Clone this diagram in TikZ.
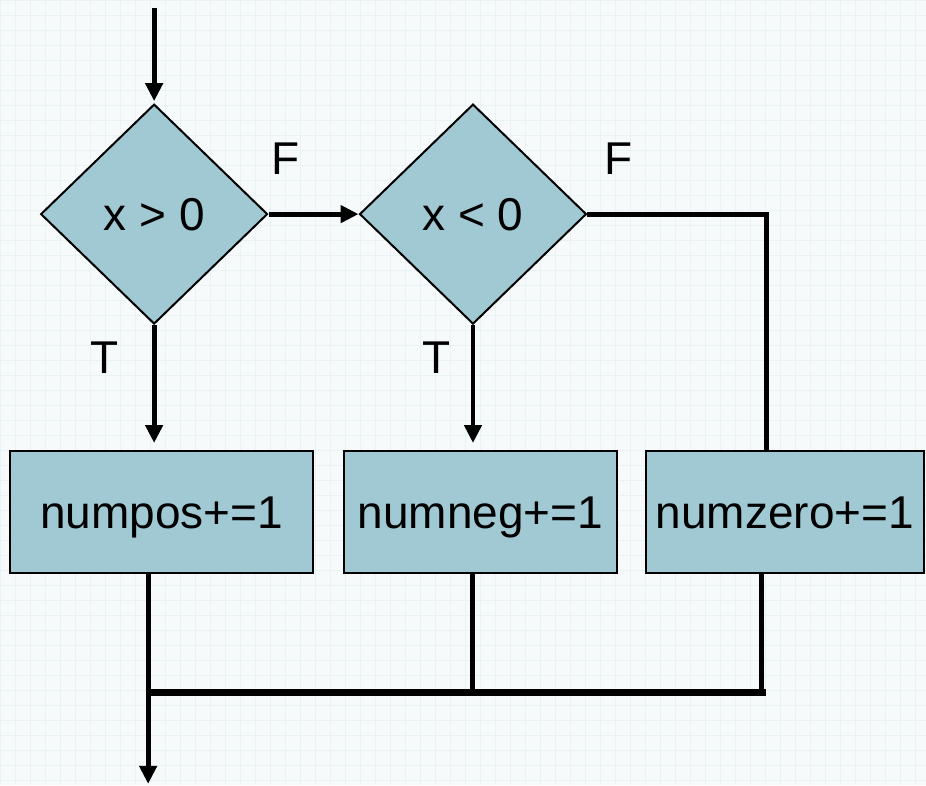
\documentclass[tikz,border=0pt]{standalone}
\usepackage{fontspec}
\setmainfont{Liberation Sans}
\usetikzlibrary{shapes.geometric,arrows.meta}
\definecolor{fillc}{RGB}{161,201,211}
\definecolor{bgc}{RGB}{246,250,251}
\definecolor{gridc}{RGB}{233,243,245}
\begin{document}
\begin{tikzpicture}[x=1pt,y=-1pt,
  txt/.style={font=\fontsize{46}{55}\selectfont, text height=33pt, text depth=0pt, inner sep=0pt},
  decision/.style={diamond, draw=black, line width=2pt, fill=fillc, txt, minimum width=227pt, minimum height=220pt},
  procbox/.style={rectangle, draw=black, line width=2pt, fill=fillc, txt, minimum height=122pt},
  flow/.style={line width=5pt, -{Triangle[length=18pt,width=17pt]}},
  wire/.style={line width=5pt},
  lbl/.style={txt}]
\fill[bgc] (0,0) rectangle (926,785);
\draw[gridc, line width=0.4pt, step=15pt] (0,0) grid (926,785);
\useasboundingbox (0,0) rectangle (926,785);

\node[decision] (d1) at (154,214) {x > 0};
\node[decision] (d2) at (473,214) {x < 0};
\node[procbox, minimum width=303pt] (b1) at (161.5,512) {numpos+=1};
\node[procbox, minimum width=273pt] (b2) at (480.5,512) {numneg+=1};
\node[procbox, minimum width=278pt] (b3) at (785,512) {numzero+=1};

\coordinate (start) at (154,8);
\coordinate (c1) at (767,214);
\coordinate (j1) at (148,693);
\coordinate (j3) at (766,693);
\coordinate (out) at (148,784);

\node[lbl] (f1) at (285,158) {F};
\node[lbl] (t1) at (104,357) {T};
\node[lbl] (f2) at (619,158) {F};
\node[lbl] (t2) at (437,357) {T};

\draw[flow, shorten >=2pt] (start) -- (d1.north);
\draw[flow] (d1.east) -- (d2.west);
\draw[flow, shorten >=7pt] (d1.south) -- (d1.south |- b1.north);
\draw[flow, shorten >=7pt] (d2.south) -- (d2.south |- b2.north);
\draw[wire] (d2.east) -- (c1) -- (c1 |- b3.north);
\draw[wire] ([xshift=-13.5pt]b1.south) -- (j1);
\draw[wire] ([xshift=-8.5pt]b2.south) -- ([xshift=-8.5pt]b2.south |- j1);
\draw[wire] ([xshift=-23pt]b3.south) -- ([xshift=-23pt]b3.south |- j1);
\draw[line width=7pt] ([xshift=-2.5pt]j1) -- (j3);
\draw[flow] (j1) -- (out);
\end{tikzpicture}
\end{document}
